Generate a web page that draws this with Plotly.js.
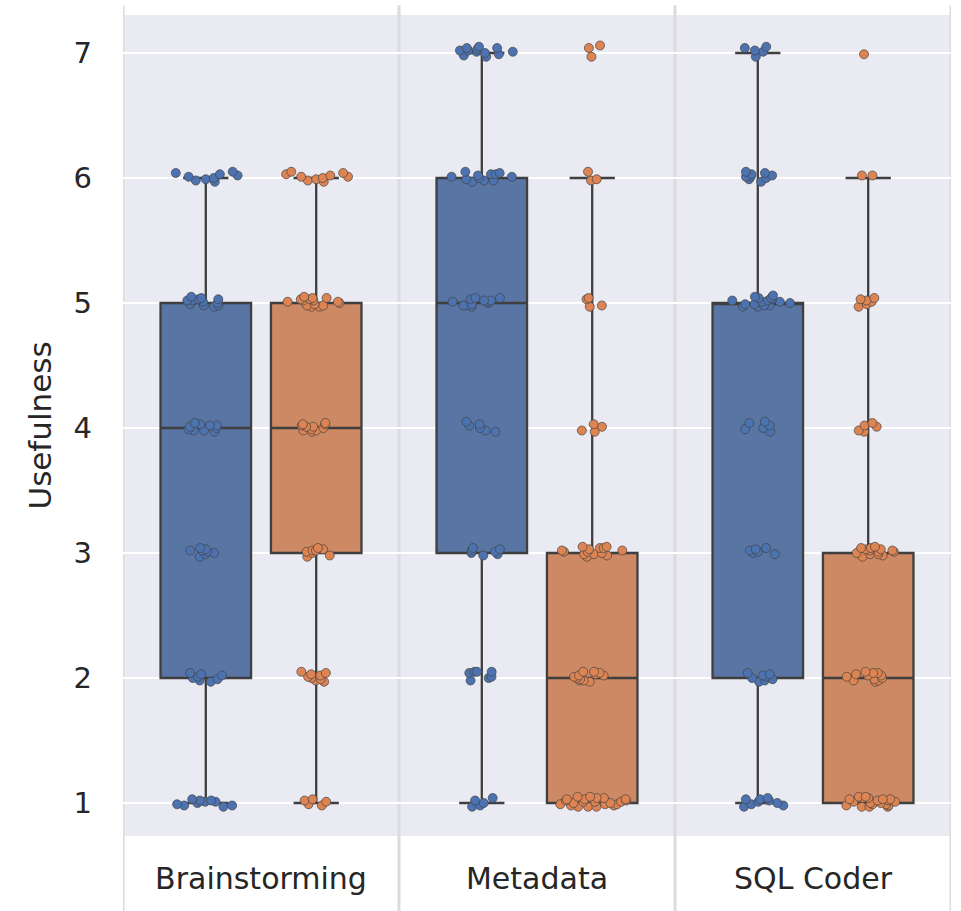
<!DOCTYPE html>
<html>
<head>
<meta charset="utf-8">
<script src="https://cdn.plot.ly/plotly-3.0.1.min.js"></script>
<style>html,body{margin:0;padding:0;background:#fff;}#chart{width:961px;height:911px;}</style>
</head>
<body>
<div id="chart"></div>
<script>
const categories = ['Brainstorming', 'Metadata', 'SQL Coder'];
const yTicks = [1, 2, 3, 4, 5, 6, 7];

// Observed responses (displayed with the small vertical jitter seen in the picture)
const brainstormingBlue = [
  1.02, 0.98, 1.01, 0.99, 1.03, 0.97, 1.00, 1.02, 0.98, 1.01,
  2.03, 1.98, 2.01, 1.97, 2.04, 2.00, 1.99, 2.02,
  3.04, 3.02, 3.00, 3.03, 2.97, 3.01, 2.99, 3.02,
  4.02, 3.98, 4.03, 4.00, 3.97, 4.04, 4.01, 3.99, 4.02, 3.98,
  5.03, 4.98, 5.01, 5.05, 4.97, 5.02, 5.00, 4.99, 5.04, 4.98, 5.02, 5.03,
  6.05, 6.02, 5.98, 6.01, 5.97, 6.04, 6.00, 5.99, 6.03
];
const brainstormingOrange = [
  1.02, 0.98, 1.01, 1.03, 0.99,
  2.04, 2.01, 1.98, 2.03, 1.97, 2.00, 2.02, 1.99, 2.05,
  3.04, 3.02, 2.98, 3.03, 3.00, 2.97, 3.01, 3.02,
  4.03, 4.01, 3.98, 4.04, 4.00, 3.97, 4.02, 3.99, 4.01, 3.98, 4.03,
  5.04, 5.02, 4.98, 5.01, 5.05, 4.97, 5.03, 5.00, 4.99, 5.02, 4.98, 5.04, 5.01, 4.97, 5.03,
  6.05, 6.02, 5.98, 6.01, 5.99, 6.04, 6.00, 5.97, 6.03, 6.01
];
const metadataBlue = [
  1.04, 1.02, 0.98, 1.00, 0.97,
  2.05, 2.05, 2.04, 2.01, 1.98, 2.00, 2.05,
  3.03, 3.01, 2.98, 3.02, 2.99, 3.04, 3.00,
  4.05, 4.02, 3.98, 4.00, 3.97, 4.03,
  5.04, 5.02, 4.98, 5.01, 5.03, 4.99, 5.00, 5.02, 4.98, 5.04, 5.01, 4.97,
  6.05, 6.03, 5.98, 6.01, 5.97, 6.04, 6.00, 5.99, 6.02, 5.98, 6.01, 6.03,
  7.04, 7.02, 6.98, 7.01, 7.05, 6.99, 7.03, 7.00, 7.02, 6.97, 7.04, 7.01
];
const metadataOrange = [
  1.05, 1.03, 1.01, 0.99, 0.97, 1.02, 1.04, 0.98, 1.00, 1.03, 0.97,
  1.01, 0.99, 1.05, 1.02, 0.98, 1.00, 1.04, 0.97, 1.03, 0.99, 1.01,
  2.05, 2.04, 2.02, 1.98, 2.01, 1.97, 2.03, 2.00, 1.99, 2.05, 1.98, 2.02,
  3.05, 3.04, 3.02, 2.98, 3.01, 2.99, 3.03, 3.00, 2.97, 3.04, 3.02, 2.99, 3.05, 3.01,
  4.03, 4.01, 3.97, 3.98,
  5.04, 5.03, 4.98, 4.97,
  6.05, 5.99, 5.98,
  7.06, 7.04, 6.97
];
const sqlCoderBlue = [
  1.04, 1.03, 1.01, 0.98, 1.02, 0.97, 1.00, 1.03, 0.99,
  2.04, 2.02, 1.98, 2.01, 1.99, 2.03, 1.97, 2.00,
  3.04, 3.02, 3.00, 2.99, 3.03, 3.01,
  4.05, 4.04, 3.99, 3.97, 4.02, 4.00,
  5.06, 5.04, 5.02, 4.98, 5.01, 4.97, 5.03, 5.00, 4.99, 5.05, 4.98, 5.02, 5.04, 4.99, 5.01, 4.97,
  6.05, 6.03, 5.99, 6.01, 5.97, 6.04, 6.00, 6.02, 6.01,
  7.05, 7.04, 7.02, 6.97, 7.01
];
const sqlCoderOrange = [
  1.05, 1.03, 1.01, 0.99, 0.97, 1.02, 1.04, 0.98, 1.00, 1.03,
  0.97, 1.01, 0.99, 1.05, 1.02, 0.98, 1.00, 1.04, 0.97, 1.03,
  2.05, 2.04, 2.02, 1.98, 2.01, 1.97, 2.03, 2.00, 1.99, 2.04, 1.98, 2.02,
  3.05, 3.03, 3.02, 2.98, 3.01, 2.99, 3.04, 3.00, 2.97, 3.03, 3.02, 2.99, 3.04, 3.01,
  4.04, 4.02, 3.97, 3.98, 4.01,
  5.04, 5.02, 4.97, 4.99, 5.01, 5.03,
  6.02, 6.02,
  6.99
];

const blueSeries = [brainstormingBlue, metadataBlue, sqlCoderBlue];
const orangeSeries = [brainstormingOrange, metadataOrange, sqlCoderOrange];

const boxFill = ['#5875A4', '#CC8963'];
const pointColor = ['#4C72B0', '#DD8452'];
const edge = '#3F3F3F';
const textColor = '#262626';

function flatten(series) {
  const xs = [], ys = [];
  series.forEach((vals, i) => vals.forEach(v => { xs.push(categories[i]); ys.push(v); }));
  return {xs, ys};
}

const traces = [];
[blueSeries, orangeSeries].forEach((series, g) => {
  const f = flatten(series);
  traces.push({
    type: 'box', x: f.xs, y: f.ys.map(Math.round),
    offsetgroup: 'g' + g, name: 'g' + g,
    boxpoints: 'outliers', marker: {opacity: 0, size: 1},
    fillcolor: boxFill[g],
    line: {color: edge, width: 2.3}, whiskerwidth: 0.5,
    hoverinfo: 'skip', showlegend: false
  });
});
[blueSeries, orangeSeries].forEach((series, g) => {
  const f = flatten(series);
  traces.push({
    type: 'box', x: f.xs, y: f.ys,
    offsetgroup: 'g' + g, name: 'p' + g,
    boxpoints: 'all', jitter: 0.75, pointpos: 0,
    fillcolor: 'rgba(0,0,0,0)', line: {color: 'rgba(0,0,0,0)', width: 0},
    whiskerwidth: 0,
    marker: {color: pointColor[g], size: 9, line: {color: '#444444', width: 0.7}},
    showlegend: false
  });
});

const shapes = [];
for (let i = 0; i <= categories.length; i++) {
  shapes.push({
    type: 'line', xref: 'x', yref: 'paper',
    x0: i - 0.5, x1: i - 0.5, y0: -0.11, y1: 1.012,
    line: {color: '#DCDCDC', width: 3}, layer: 'below'
  });
}

const layout = {
  width: 961, height: 911,
  margin: {l: 123, r: 10, t: 15, b: 75},
  paper_bgcolor: '#FFFFFF', plot_bgcolor: '#EAEAF2',
  boxmode: 'group', boxgap: 0.2, boxgroupgap: 0.18,
  showlegend: false,
  font: {family: 'DejaVu Sans', color: textColor},
  xaxis: {
    type: 'category', categoryarray: categories, categoryorder: 'array',
    range: [-0.5, 2.5], showgrid: false, zeroline: false, showline: false,
    ticks: '', tickfont: {size: 30, color: textColor}, ticklabelstandoff: 22
  },
  yaxis: {
    range: [0.736, 7.304], tickvals: yTicks, ticktext: yTicks.map(String),
    showgrid: true, gridcolor: '#FFFFFF', gridwidth: 2.2, zeroline: false, showline: false,
    ticks: '', tickfont: {size: 29, color: textColor}, ticklabelstandoff: 30,
    title: {text: 'Usefulness', font: {size: 31, color: textColor}, standoff: 12}
  },
  shapes: shapes
};

Plotly.newPlot('chart', traces, layout, {staticPlot: true, displayModeBar: false});
</script>
</body>
</html>
